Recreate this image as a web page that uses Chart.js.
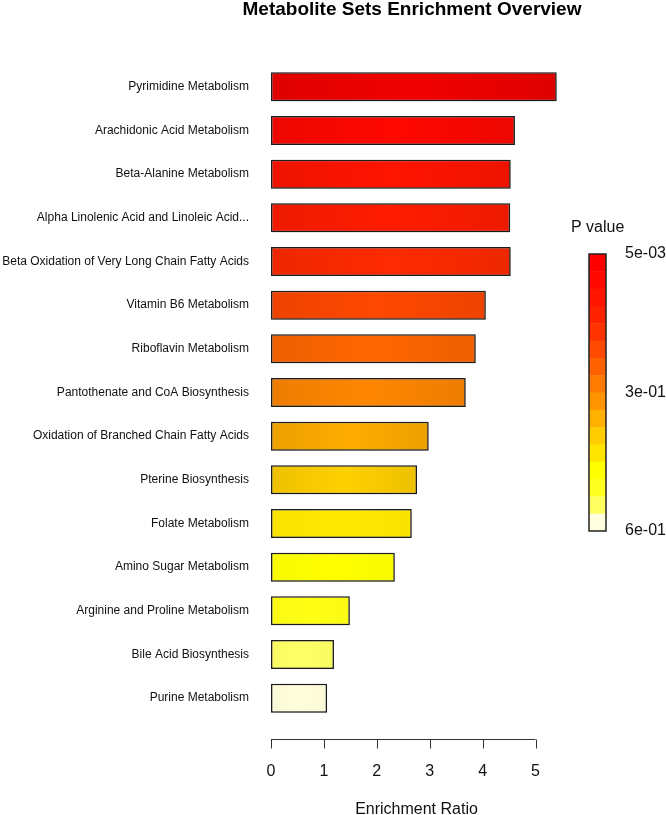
<!DOCTYPE html>
<html>
<head>
<meta charset="utf-8">
<title>Metabolite Sets Enrichment Overview</title>
<script src="https://cdn.jsdelivr.net/npm/chart.js@4.4.1/dist/chart.umd.min.js"></script>
<style>
  html, body { margin: 0; padding: 0; background: #fff; }
  #wrap { position: relative; width: 666px; height: 815px; }
</style>
</head>
<body>
<div id="wrap"><canvas id="enrichChart"></canvas></div>
<script>
// Metabolite set enrichment data

const pathways = [
  'Pyrimidine Metabolism',
  'Arachidonic Acid Metabolism',
  'Beta-Alanine Metabolism',
  'Alpha Linolenic Acid and Linoleic Acid...',
  'Beta Oxidation of Very Long Chain Fatty Acids',
  'Vitamin B6 Metabolism',
  'Riboflavin Metabolism',
  'Pantothenate and CoA Biosynthesis',
  'Oxidation of Branched Chain Fatty Acids',
  'Pterine Biosynthesis',
  'Folate Metabolism',
  'Amino Sugar Metabolism',
  'Arginine and Proline Metabolism',
  'Bile Acid Biosynthesis',
  'Purine Metabolism'
];

const enrichmentRatio = [5.40, 4.61, 4.53, 4.52, 4.53, 4.06, 3.87, 3.68, 2.98, 2.76, 2.66, 2.34, 1.49, 1.19, 1.06];

const barColors = [
  '#F00000', '#FF0800', '#FF1400', '#FF1C00', '#FF2A00',
  '#FF4800', '#FF6600', '#FF8600', '#FFAC00', '#FFD000',
  '#FFE800', '#FFFF00', '#FFFF14', '#FFFF66', '#FFFFDC'
];

const xTicks = [0, 1, 2, 3, 4, 5];

// P value colour key, top (small p) to bottom (large p)
const legendColors = [
  '#FF0000', '#FF0A00', '#FF1500', '#FF2200', '#FF3300', '#FF4A00',
  '#FF6000', '#FF7A00', '#FF9400', '#FFB000', '#FFCC00', '#FFE400',
  '#FFFF00', '#FFFF20', '#FFFF60', '#FFFFDF'
];
const legendLabels = ['5e-03', '3e-01', '6e-01'];
const legendLabelPos = [0, 0.5, 1];

const FONT = '"Liberation Sans", Arial, Helvetica, sans-serif';

function shade(hex, f) {
  const n = parseInt(hex.slice(1), 16);
  const r = Math.round(((n >> 16) & 255) * f);
  const g = Math.round(((n >> 8) & 255) * f);
  const b = Math.round((n & 255) * f);
  return `rgb(${r}, ${g}, ${b})`;
}

// soft grey halo behind the bars
const barShadow = {
  id: 'barShadow',
  beforeDatasetsDraw(chart) {
    const ctx = chart.ctx;
    ctx.save();
    ctx.shadowColor = 'rgba(0, 0, 0, 0.3)';
    ctx.shadowBlur = 4;
    ctx.shadowOffsetX = 1;
    ctx.shadowOffsetY = 1;
  },
  afterDatasetsDraw(chart) {
    chart.ctx.restore();
  }
};

// title, detached R-style x axis line and the P value colour key
const decorations = {
  id: 'decorations',
  afterDraw(chart) {
    const ctx = chart.ctx;
    const x = chart.scales.x;
    ctx.save();

    ctx.fillStyle = '#000';
    ctx.font = `bold 19px ${FONT}`;
    ctx.textAlign = 'center';
    ctx.textBaseline = 'alphabetic';
    ctx.fillText('Metabolite Sets Enrichment Overview', 412, 15);

    // axis line from first to last tick, offset below the bars
    const axisY = 739.5;
    ctx.strokeStyle = '#333';
    ctx.lineWidth = 1;
    ctx.beginPath();
    ctx.moveTo(x.getPixelForValue(xTicks[0]), axisY);
    ctx.lineTo(x.getPixelForValue(xTicks[xTicks.length - 1]), axisY);
    for (const t of xTicks) {
      const px = Math.round(x.getPixelForValue(t)) + 0.5;
      ctx.moveTo(px, axisY);
      ctx.lineTo(px, axisY + 9);
    }
    ctx.stroke();

    // colour key
    const kx = 589, ky = 254, kw = 17, kh = 277;
    const step = kh / legendColors.length;
    legendColors.forEach((c, i) => {
      ctx.fillStyle = c;
      ctx.fillRect(kx, ky + i * step, kw, step + 0.5);
    });
    ctx.strokeStyle = '#222';
    ctx.lineWidth = 1.5;
    ctx.strokeRect(kx, ky, kw, kh);

    ctx.fillStyle = '#111';
    ctx.font = `16px ${FONT}`;
    ctx.textAlign = 'left';
    ctx.textBaseline = 'middle';
    ctx.fillText('P value', 571, 228);
    legendLabels.forEach((lbl, i) => {
      ctx.fillText(lbl, 625, ky + legendLabelPos[i] * kh);
    });

    ctx.restore();
  }
};

const ctx = document.getElementById('enrichChart').getContext('2d');
new Chart(ctx, {
  type: 'bar',
  data: {
    labels: pathways,
    datasets: [{
      label: 'Enrichment Ratio',
      data: enrichmentRatio,
      backgroundColor: (c) => {
        const base = barColors[c.dataIndex];
        const chart = c.chart;
        if (!chart.chartArea || c.type !== 'data') return base;
        const xs = chart.scales.x;
        const x0 = xs.getPixelForValue(0);
        const x1 = xs.getPixelForValue(enrichmentRatio[c.dataIndex]);
        // lighter bars get a gentler edge shading
        const f = c.dataIndex < 10 ? 0.93 : 0.975;
        const g = chart.ctx.createLinearGradient(x0, 0, x1, 0);
        g.addColorStop(0, shade(base, f));
        g.addColorStop(0.5, base);
        g.addColorStop(1, shade(base, f));
        return g;
      },
      borderColor: '#1e1e1e',
      borderWidth: 1.5,
      borderSkipped: false,
      barPercentage: 0.665,
      categoryPercentage: 1
    }]
  },
  options: {
    indexAxis: 'y',
    responsive: true,
    maintainAspectRatio: false,
    animation: false,
    layout: {
      padding: { top: 65, right: 104, left: 0, bottom: 0 }
    },
    plugins: {
      legend: { display: false },
      title: { display: false },
      tooltip: { enabled: false }
    },
    scales: {
      x: {
        type: 'linear',
        min: 0,
        max: 5.5,
        grid: { display: false, drawTicks: false },
        border: { display: false },
        afterBuildTicks: (scale) => {
          scale.ticks = xTicks.map(v => ({ value: v }));
        },
        afterFit: (scale) => { scale.height = 95; },
        ticks: {
          color: '#111',
          padding: 42,
          maxRotation: 0,
          font: { family: FONT, size: 16 }
        },
        title: {
          display: true,
          text: 'Enrichment Ratio',
          color: '#111',
          padding: { top: 0, bottom: 0 },
          font: { family: FONT, size: 16, lineHeight: 0.7 }
        }
      },
      y: {
        grid: { display: false, drawTicks: false },
        border: { display: false },
        afterFit: (scale) => { scale.width = 271; },
        ticks: {
          color: '#111',
          padding: 22,
          autoSkip: false,
          font: { family: FONT, size: 12 }
        }
      }
    }
  },
  plugins: [barShadow, decorations]
});
</script>
</body>
</html>
